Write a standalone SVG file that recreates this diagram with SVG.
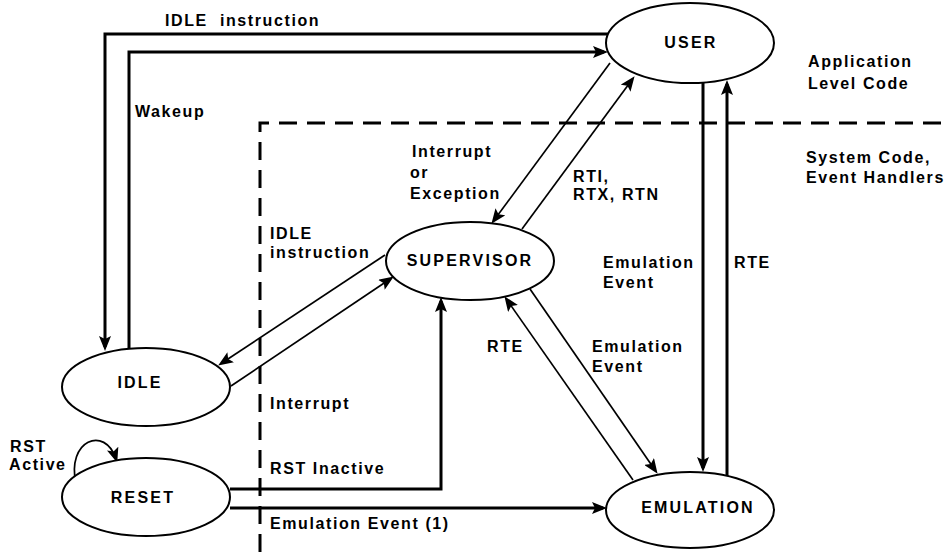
<svg xmlns="http://www.w3.org/2000/svg" width="949" height="552" viewBox="0 0 949 552">
<style>
  text { font-family: "Liberation Sans", Arial, sans-serif; font-weight: bold; font-size: 16px; letter-spacing: 1.6px; fill: #000; }
  .node ellipse { fill: #fff; stroke: #000; stroke-width: 2; }
  .node text { text-anchor: middle; letter-spacing: 2.2px; }
  .thick { fill: none; stroke: #000; stroke-width: 3; marker-end: url(#arr); }
  .thin { fill: none; stroke: #000; stroke-width: 1.7; marker-end: url(#arr); }
  .dash { fill: none; stroke: #000; stroke-width: 3; stroke-dasharray: 18 10; }
</style>
<defs>
  <marker id="arr" markerUnits="userSpaceOnUse" markerWidth="15" markerHeight="12" refX="11" refY="6" orient="auto">
    <path d="M0,0 L15,6 L0,12 L3,6 z" fill="#000"/>
  </marker>
</defs>
<rect width="949" height="552" fill="#fff"/>
<path class="dash" d="M260 552 V123 H949"/>
<g id="connectors">
  <path class="thick" d="M609 34 H105 V347"/>
  <path class="thick" d="M129 349 V52 H604"/>
  <path class="thin" d="M610 63 L493.8 220.6"/>
  <path class="thin" d="M522 229 L632.2 79.4"/>
  <path class="thick" d="M703 83 V468"/>
  <path class="thick" d="M727 476 V84"/>
  <path class="thin" d="M385 255 L221.5 363.3"/>
  <path class="thin" d="M231 386 L390.5 278.7"/>
  <path class="thick" d="M230 489 H441 V301"/>
  <path class="thick" d="M230 508 H603"/>
  <path class="thin" d="M530 289 L655.3 470.5"/>
  <path class="thin" d="M633 480 L506.7 299.5"/>
  <path class="thin" d="M76 484 C66 440 105 425 116 459"/>
</g>
<g id="labels">
  <text x="165" y="26" xml:space="preserve">IDLE  instruction</text>
  <text x="135" y="117">Wakeup</text>
  <text x="412" y="157">Interrupt</text>
  <text x="410" y="178">or</text>
  <text x="410" y="199">Exception</text>
  <text x="270" y="239">IDLE</text>
  <text x="270" y="258">instruction</text>
  <text x="573" y="182">RTI,</text>
  <text x="573" y="200">RTX, RTN</text>
  <text x="603" y="268">Emulation</text>
  <text x="603" y="288">Event</text>
  <text x="734" y="268">RTE</text>
  <text x="487" y="352">RTE</text>
  <text x="592" y="352">Emulation</text>
  <text x="592" y="372">Event</text>
  <text x="270" y="409">Interrupt</text>
  <text x="270" y="474">RST Inactive</text>
  <text x="270" y="529">Emulation Event (1)</text>
  <text x="10" y="452">RST</text>
  <text x="9" y="470">Active</text>
  <text x="808" y="67">Application</text>
  <text x="808" y="89">Level Code</text>
  <text x="806" y="163">System Code,</text>
  <text x="806" y="183">Event Handlers</text>
</g>
<g id="user" class="node"><ellipse cx="690" cy="43" rx="84" ry="40"/><text x="691" y="48">USER</text></g>
<g id="supervisor" class="node"><ellipse cx="470" cy="261" rx="84" ry="39"/><text x="470" y="266">SUPERVISOR</text></g>
<g id="idle" class="node"><ellipse cx="146" cy="387" rx="84" ry="39"/><text x="140" y="388">IDLE</text></g>
<g id="reset" class="node"><ellipse cx="146" cy="497" rx="84" ry="39"/><text x="143" y="503">RESET</text></g>
<g id="emulation" class="node"><ellipse cx="690" cy="510" rx="84" ry="38"/><text x="698" y="513">EMULATION</text></g>
</svg>
